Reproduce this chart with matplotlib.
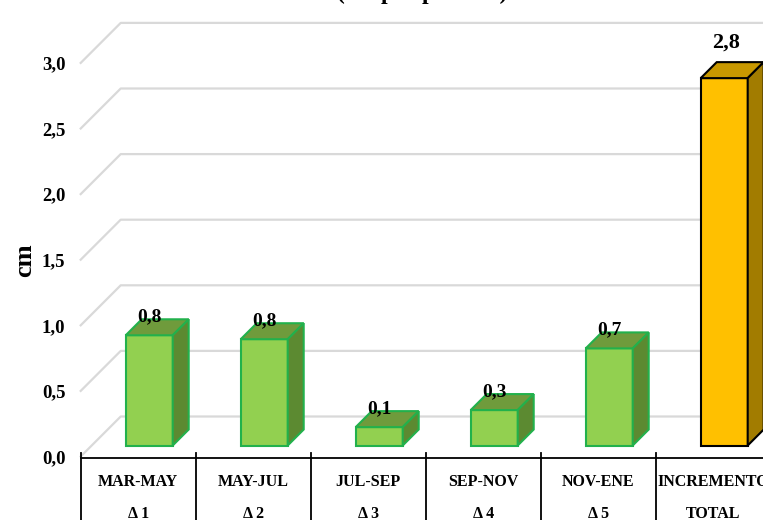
import matplotlib
matplotlib.use("Agg")
import matplotlib.pyplot as plt
from matplotlib.patches import Polygon

plt.rcParams['font.family'] = ['Liberation Serif', 'DejaVu Serif']

# data
periods = ["MAR-MAY", "MAY-JUL", "JUL-SEP", "SEP-NOV", "NOV-ENE", "INCREMENTO"]
sublabels = ["Δ 1", "Δ 2", "Δ 3", "Δ 4", "Δ 5", "TOTAL"]
increments = [0.84, 0.81, 0.14, 0.27, 0.74]
total = 2.80
y_ticks = [0.0, 0.5, 1.0, 1.5, 2.0, 2.5, 3.0]

values = increments + [total]

W, H = 763, 520
fig = plt.figure(figsize=(W / 100, H / 100), dpi=100)
fig.patch.set_facecolor("white")

# pixel geometry of the front plane
cat_px = 115.0
unit_px = 131.2
left_px = 80.7
zero_px = 456.5
ax = fig.add_axes([left_px / W, (H - zero_px) / H, 6 * cat_px / W, 3 * unit_px / H])
ax.set_xlim(-0.5, 5.5)
ax.set_ylim(0, 3)
for s in ax.spines.values():
    s.set_visible(False)
ax.set_xticks([])
ax.set_yticks(y_ticks)
ax.set_yticklabels([f"{t:.1f}".replace(".", ",") for t in y_ticks],
                   fontsize=13.5, fontweight="bold")
ax.tick_params(axis="y", length=0, pad=11)
ax.set_ylabel("cm", fontsize=19, fontweight="bold", labelpad=4)

# depth offsets (data units)
wall_dx, wall_dy = 40 / cat_px, 40 / unit_px
gap_dx, gap_dy = 11 / cat_px, 11 / unit_px
bar_dx, bar_dy = 16 / cat_px, 16 / unit_px
bw = 47 / cat_px

# back wall gridlines
for t in y_ticks:
    ax.plot([-0.5, -0.5 + wall_dx, 5.7], [t, t + wall_dy, t + wall_dy],
            color="#d9d9d9", lw=1.6, zorder=1, clip_on=False)

# 3d-looking columns
for i, v in enumerate(values):
    if i < 5:
        front, top, side, edge = "#92D050", "#6F9B3C", "#5C8A31", "#22B14C"
    else:
        front, top, side, edge = "#FFC000", "#C89800", "#A27C00", "black"
    x0 = i - bw / 2 + gap_dx
    x1 = x0 + bw
    y0 = gap_dy
    y1 = v + gap_dy
    faces = [
        ([(x0, y0), (x1, y0), (x1, y1), (x0, y1)], front),
        ([(x0, y1), (x1, y1), (x1 + bar_dx, y1 + bar_dy), (x0 + bar_dx, y1 + bar_dy)], top),
        ([(x1, y0), (x1 + bar_dx, y0 + bar_dy), (x1 + bar_dx, y1 + bar_dy), (x1, y1)], side),
    ]
    for pts, c in faces:
        ax.add_patch(Polygon(pts, closed=True, facecolor=c, edgecolor=edge,
                             lw=1.5, joinstyle="miter", zorder=3, clip_on=False))
    lab = f"{v:.1f}".replace(".", ",")
    if i < 5:
        ax.text(i + gap_dx, y1 + 14 / unit_px, lab, ha="center", va="baseline",
                fontsize=14, fontweight="bold", zorder=5)
    else:
        ax.text(i + gap_dx + 0.02, y1 + 31 / unit_px, lab, ha="center", va="baseline",
                fontsize=16, fontweight="bold", zorder=5)

# category axis drawn as a table
ax.plot([-0.5, 5.7], [-1.2 / unit_px, -1.2 / unit_px], color="black", lw=1.3,
        clip_on=False, zorder=4)
for k in range(7):
    xb = k - 0.5
    ax.plot([xb, xb], [4 / unit_px, -0.6], color="black", lw=1.3,
            clip_on=False, zorder=4)
for i, (p, s) in enumerate(zip(periods, sublabels)):
    ax.text(i, -29.5 / unit_px, p, ha="center", va="baseline",
            fontsize=11.5, fontweight="bold")
    ax.text(i, -62 / unit_px, s, ha="center", va="baseline",
            fontsize=11.5, fontweight="bold")

# title, mostly cut off at the top of the picture
fig.text(0.553, 1 + 1.5 / H, "(cm por período)", ha="center", va="baseline",
         fontsize=17, fontweight="bold")

fig.savefig("out.png", dpi=100)
